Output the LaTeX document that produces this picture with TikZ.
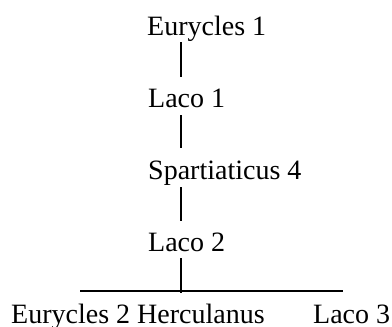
\documentclass[tikz,border=0pt]{standalone}
\usepackage{fontspec}
\setmainfont{Liberation Serif}
\begin{document}
\begin{tikzpicture}[x=1pt,y=-1pt,
  person/.style={anchor=base west,inner sep=0pt,font=\fontsize{28}{32}\selectfont},
  link/.style={line width=2pt},
  bar/.style={line width=1.4pt}]
\useasboundingbox (0,0) rectangle (392,327);
% lineage, top to bottom
\node[person] (e1) at (147,35) {Eurycles 1};
\node[person] (l1) at (148,107) {Laco 1};
\node[person] (s4) at (148,179) {Spartiaticus 4};
\node[person] (l2) at (148,251) {Laco 2};
% children of Laco 2
\node[person] (e2) at (11,323) {Eurycles 2 Herculanus};
\node[person] (l3) at (313,323) {Laco 3};
% connector end points
\coordinate (a1) at (181,42);  \coordinate (b1) at (181,77);
\coordinate (a2) at (181,115); \coordinate (b2) at (181,148);
\coordinate (a3) at (181,187); \coordinate (b3) at (181,221);
\coordinate (a4) at (181,258); \coordinate (b4) at (181,293);
\coordinate (hl) at (80,291);  \coordinate (hr) at (343,291);
\draw[link] (a1) -- (b1);
\draw[link] (a2) -- (b2);
\draw[link] (a3) -- (b3);
\draw[link] (a4) -- (b4);
\draw[bar] (hl) -- (hr);
\end{tikzpicture}
\end{document}
